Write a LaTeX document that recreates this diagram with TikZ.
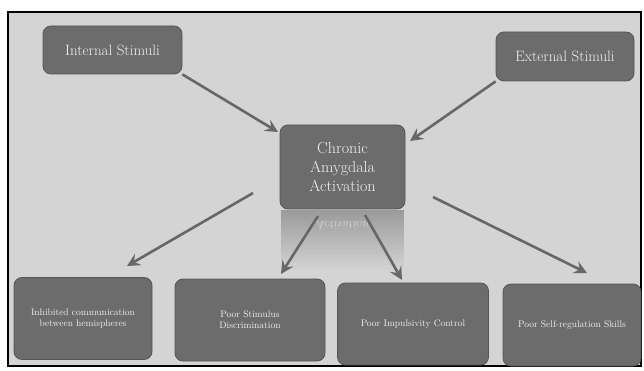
\documentclass[tikz,border=0pt]{standalone}
\usetikzlibrary{arrows.meta,fadings}
\definecolor{bgc}{HTML}{D4D4D4}
\definecolor{boxc}{HTML}{6C6C6C}
\definecolor{boxd}{HTML}{555555}
\definecolor{arrc}{HTML}{676767}
\definecolor{txtc}{HTML}{F2F2F2}
\tikzset{
  gbox/.style={draw=boxd, line width=0.8pt, fill=boxc, rounded corners=8pt,
    text=txtc, align=center, inner sep=2pt},
  topbox/.style={gbox, font=\fontsize{15}{18}\selectfont},
  midbox/.style={gbox, font=\fontsize{16}{19}\selectfont},
  botbox/.style={gbox, font=\fontsize{9.5}{11}\selectfont},
  conn/.style={draw=arrc, line width=2.6pt,
    -{Stealth[length=13pt,width=13pt,inset=5pt]}}
}
\begin{document}
\begin{tikzpicture}[x=1pt,y=-1pt]
\useasboundingbox (0,0) rectangle (644,371);
\fill[white] (0,0) rectangle (644,371);
\fill[bgc] (8,12) rectangle (641,366);
\draw[black, line width=1.4pt] (8,12) rectangle (641,366);

% reflection of the central box
\fill[boxc, path fading=south, opacity=0.55] (281,210) rectangle (404,270);
\node[text=txtc, opacity=0.6, yscale=-1, font=\fontsize{12}{14}\selectfont] (refl) at (342.5,226) {Activation};

\node[topbox, minimum width=139pt, minimum height=48pt] (int) at (112.5,50) {Internal Stimuli};
\node[topbox, minimum width=138pt, minimum height=49pt] (ext) at (565,56.5) {External Stimuli};
\node[midbox, minimum width=125pt, minimum height=84pt] (chr) at (342.5,167) {Chronic\\Amygdala\\Activation};

\node[botbox, minimum width=138pt, minimum height=82pt] (b1) at (83,318.5) {Inhibited communication\\between hemispheres};
\node[botbox, minimum width=150pt, minimum height=82pt] (b2) at (250,320) {Poor Stimulus\\Discrimination};
\node[botbox, minimum width=151pt, minimum height=82pt] (b3) at (413,324) {Poor Impulsivity Control};
\node[botbox, minimum width=138pt, minimum height=82pt] (b4) at (572,325) {Poor Self-regulation Skills};

\coordinate (e1) at (278,132);
\coordinate (e2) at (410,141);
\coordinate (s3) at (253,193);
\coordinate (e3) at (127,266);
\coordinate (s4) at (318,216);
\coordinate (e4) at (281,274);
\coordinate (s5) at (365,215);
\coordinate (e5) at (402,280);
\coordinate (s6) at (433,197);
\coordinate (e6) at (587,273);

\draw[conn] (int.south east) -- (e1);
\draw[conn] (ext.south west) -- (e2);
\draw[conn] (s3) -- (e3);
\draw[conn] (s4) -- (e4);
\draw[conn] (s5) -- (e5);
\draw[conn] (s6) -- (e6);
\end{tikzpicture}
\end{document}
